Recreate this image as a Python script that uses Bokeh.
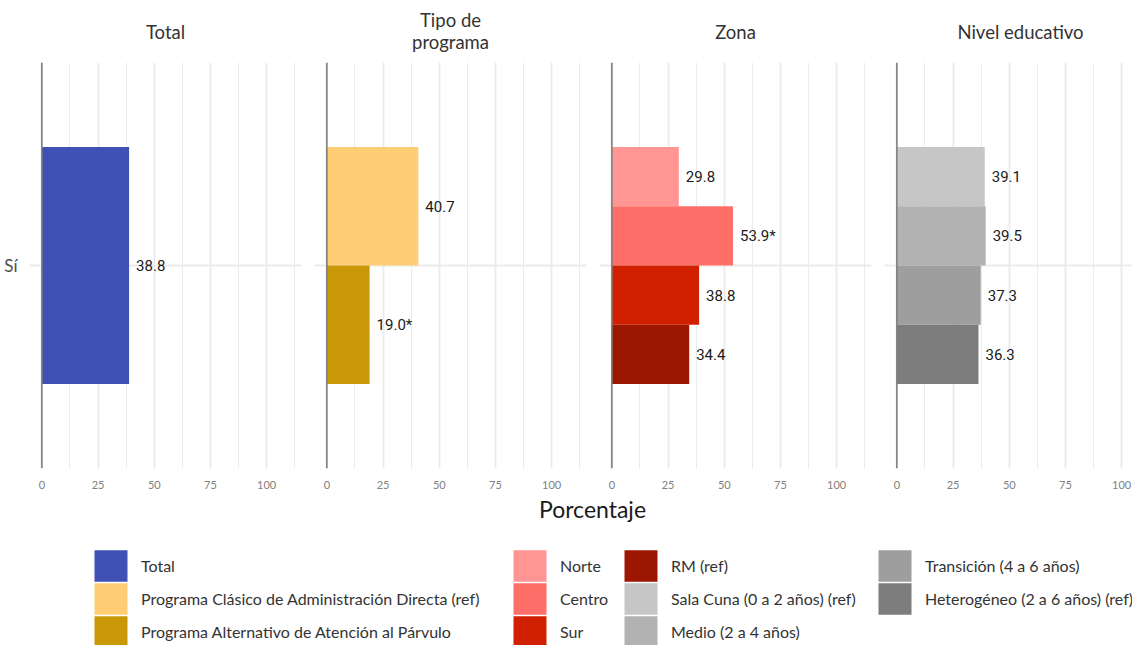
from bokeh.plotting import figure
from bokeh.layouts import row, column
from bokeh.models import (Range1d, FixedTicker, Span, ColumnDataSource,
                          Legend, LegendItem, Label)
from bokeh.core.properties import value
from bokeh.embed import file_html
from bokeh.resources import INLINE

# ---------------- data ----------------
PANEL_TITLES = [["Total"], ["Tipo de", "programa"], ["Zona"], ["Nivel educativo"]]
Y_CATEGORY = "Sí"
X_TICKS = [0, 25, 50, 75, 100]
X_TITLE = "Porcentaje"

TOTAL_CATS = ["Total"]
TOTAL_VALS = [38.8]
TOTAL_LABELS = ["38.8"]

PROG_CATS = ["Programa Clásico de Administración Directa (ref)",
             "Programa Alternativo de Atención al Párvulo"]
PROG_VALS = [40.7, 19.0]
PROG_LABELS = ["40.7", "19.0*"]

ZONA_CATS = ["Norte", "Centro", "Sur", "RM (ref)"]
ZONA_VALS = [29.8, 53.9, 38.8, 34.4]
ZONA_LABELS = ["29.8", "53.9*", "38.8", "34.4"]

NIVEL_CATS = ["Sala Cuna (0 a 2 años) (ref)", "Medio (2 a 4 años)",
              "Transición (4 a 6 años)", "Heterogéneo (2 a 6 años) (ref)"]
NIVEL_VALS = [39.1, 39.5, 37.3, 36.3]
NIVEL_LABELS = ["39.1", "39.5", "37.3", "36.3"]

# ---------------- styles ----------------
COLORS = {
    "Total": "#3F51B5",
    "Programa Clásico de Administración Directa (ref)": "#FFCD73",
    "Programa Alternativo de Atención al Párvulo": "#C99806",
    "Norte": "#FF9694",
    "Centro": "#FF6F69",
    "Sur": "#D02000",
    "RM (ref)": "#9C1600",
    "Sala Cuna (0 a 2 años) (ref)": "#C6C6C6",
    "Medio (2 a 4 años)": "#B2B2B2",
    "Transición (4 a 6 años)": "#9E9E9E",
    "Heterogéneo (2 a 6 años) (ref)": "#7D7D7D",
}
FONT = "Lato"
NUM_FONT = "Roboto"
GRID = "#EBEBEB"
GROUP_WIDTH = 0.7
X_LO, X_HI = -5.5, 115.5
FRAME_W, FRAME_H = 272, 406
STRIP_H, BOTTOM = 62, 26
TOTAL_W, TOTAL_H = 1132, 645
LEFT_FIRST = 29
GAP_L, GAP_R = 7, 6

PANELS = [
    (PANEL_TITLES[0], TOTAL_CATS, TOTAL_VALS, TOTAL_LABELS),
    (PANEL_TITLES[1], PROG_CATS, PROG_VALS, PROG_LABELS),
    (PANEL_TITLES[2], ZONA_CATS, ZONA_VALS, ZONA_LABELS),
    (PANEL_TITLES[3], NIVEL_CATS, NIVEL_VALS, NIVEL_LABELS),
]


def geometry(idx):
    first = idx == 0
    last = idx == len(PANELS) - 1
    left = LEFT_FIRST if first else GAP_L
    right = 0 if last else GAP_R
    if last:
        used = (LEFT_FIRST + GAP_R + FRAME_W
                + (len(PANELS) - 2) * (GAP_L + FRAME_W + GAP_R) + GAP_L)
        fw = TOTAL_W - used
        x_hi = X_LO + fw * (X_HI - X_LO) / FRAME_W
    else:
        fw, x_hi = FRAME_W, X_HI
    return left, right, fw, x_hi


def make_strip(idx, title_lines):
    left, right, fw, x_hi = geometry(idx)
    s = figure(frame_width=fw, frame_height=STRIP_H,
               x_range=Range1d(X_LO, x_hi), y_range=Range1d(0, STRIP_H),
               output_backend="svg", toolbar_location=None,
               x_axis_location=None, y_axis_location=None,
               min_border_left=left, min_border_right=right,
               min_border_top=0, min_border_bottom=0)
    s.outline_line_color = None
    s.grid.visible = False
    x_mid = (X_LO + X_HI) / 2
    ys = [30.5] if len(title_lines) == 1 else [42.2, 20.5]
    for line, yy in zip(title_lines, ys):
        s.add_layout(Label(x=x_mid, y=yy, text=line,
                           text_align="center", text_baseline="alphabetic",
                           text_font=FONT, text_font_size="18.5px",
                           text_color="#333333"))
    return s


def make_panel(idx, cats, vals, labels):
    first = idx == 0
    left, right, fw, x_hi = geometry(idx)
    p = figure(frame_width=fw, frame_height=FRAME_H,
               x_range=Range1d(X_LO, x_hi), y_range=Range1d(0.4, 1.6),
               output_backend="svg", toolbar_location=None, title=None,
               y_axis_location="left" if first else None,
               min_border_left=left, min_border_right=right,
               min_border_top=0, min_border_bottom=BOTTOM)
    p.outline_line_color = None
    p.background_fill_color = "white"
    p.border_fill_color = "white"

    # dodged bars
    n = len(cats)
    h = GROUP_WIDTH / n
    ys = [1 + GROUP_WIDTH / 2 - (i + 0.5) * h for i in range(n)]
    src = ColumnDataSource(dict(cat=cats, value=vals, label=labels, y=ys,
                                color=[COLORS[c] for c in cats]))
    p.hbar(y="y", left=0, right="value", height=h, source=src,
           fill_color="color", line_color=None)
    p.text(x="value", y="y", text="label", source=src, x_offset=7,
           text_baseline="middle", text_align="left",
           text_font=value(NUM_FONT), text_font_size="15px",
           text_color="#1A1A1A")

    p.add_layout(Span(location=0, dimension="height",
                      line_color="#7F7F7F", line_width=1.6))

    # x axis / grid
    minor = [t + (X_TICKS[1] - X_TICKS[0]) / 2 for t in X_TICKS]
    xt = FixedTicker(ticks=X_TICKS, minor_ticks=minor)
    p.xaxis.ticker = xt
    p.xaxis.axis_line_color = None
    p.xaxis.major_tick_line_color = None
    p.xaxis.minor_tick_line_color = None
    p.xaxis.major_tick_out = 0
    p.xaxis.minor_tick_out = 0
    p.xaxis.major_label_text_font = FONT
    p.xaxis.major_label_text_font_size = "11px"
    p.xaxis.major_label_text_color = "#808080"
    p.xaxis.major_label_standoff = 12
    p.xgrid.ticker = xt
    p.xgrid.grid_line_color = GRID
    p.xgrid.grid_line_width = 1.9
    p.xgrid.minor_grid_line_color = GRID
    p.xgrid.minor_grid_line_width = 1.0

    yt = FixedTicker(ticks=[1])
    p.ygrid.ticker = yt
    p.ygrid.grid_line_color = GRID
    p.ygrid.grid_line_width = 1.9
    if first:
        p.yaxis.ticker = yt
        p.yaxis.major_label_overrides = {1: Y_CATEGORY}
        p.yaxis.axis_line_color = None
        p.yaxis.major_tick_line_color = None
        p.yaxis.minor_tick_line_color = None
        p.yaxis.major_tick_out = 0
        p.yaxis.minor_tick_out = 0
        p.yaxis.major_label_text_font = FONT
        p.yaxis.major_label_text_font_size = "17px"
        p.yaxis.major_label_text_color = "#4D4D4D"
        p.yaxis.major_label_standoff = 12
    return p


strips = [make_strip(i, spec[0]) for i, spec in enumerate(PANELS)]
panels = [make_panel(i, *spec[1:]) for i, spec in enumerate(PANELS)]

# ---------------- bottom: axis title + legend ----------------
H = TOTAL_H - (STRIP_H + FRAME_H + BOTTOM)
leg = figure(frame_width=TOTAL_W, frame_height=H, x_range=Range1d(0, TOTAL_W),
             y_range=Range1d(0, H), output_backend="svg",
             toolbar_location=None, x_axis_location=None,
             y_axis_location=None, min_border=0)
leg.outline_line_color = None
leg.grid.visible = False

leg.add_layout(Label(x=592, y=H - 14, text=X_TITLE, text_align="center",
                     text_baseline="alphabetic", text_font=FONT,
                     text_font_size="23px", text_color="#1A1A1A"))

all_cats = TOTAL_CATS + PROG_CATS + ZONA_CATS + NIVEL_CATS
all_vals = TOTAL_VALS + PROG_VALS + ZONA_VALS + NIVEL_VALS
key_src = ColumnDataSource(dict(cat=all_cats, value=all_vals,
                                color=[COLORS[c] for c in all_cats]))
key_r = leg.hbar(y=0, left=0, right="value", height=1, source=key_src,
                 fill_color="color", line_color="color", line_width=5,
                 line_join="miter", visible=False)

columns = [(0, 3), (3, 6), (6, 9), (9, 11)]
col_x = [93, 512, 623, 877]
legend_top = 55
glyph_w, glyph_h = 35, 33
for cx, (a, b) in zip(col_x, columns):
    height = (b - a) * glyph_h
    lg = Legend(items=[LegendItem(label=all_cats[i], renderers=[key_r], index=i)
                       for i in range(a, b)],
                location=(cx, H - legend_top - height),
                orientation="vertical", glyph_width=glyph_w, glyph_height=glyph_h,
                spacing=0, label_standoff=13, padding=0, margin=0,
                border_line_color=None, background_fill_alpha=0,
                label_text_font=FONT, label_text_font_size="16px",
                label_text_color="#333333", label_text_baseline="middle")
    leg.add_layout(lg)

layout = column(row(*strips), row(*panels), leg)
open("out.html", "w").write(file_html(layout, INLINE))
